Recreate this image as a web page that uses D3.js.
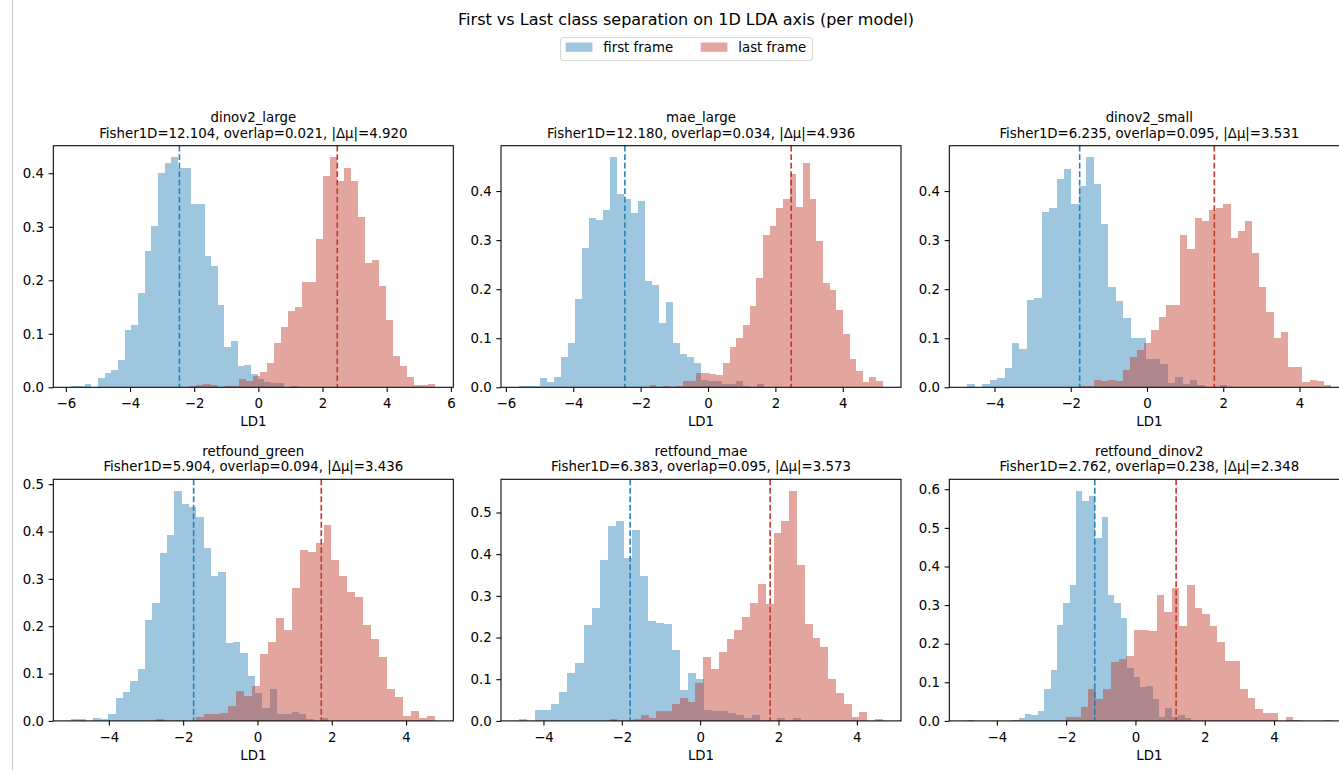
<!DOCTYPE html>
<html>
<head>
<meta charset="utf-8">
<script src="https://cdn.jsdelivr.net/npm/d3@7"></script>
<style>
  html, body { margin: 0; padding: 0; background: #fff; }
  svg { display: block; font-family: "DejaVu Sans", sans-serif; }
</style>
</head>
<body>
<svg id="chart" width="1339" height="770"></svg>
<script>
// Modelle und Kennzahlen
const models = ["dinov2_large", "mae_large", "dinov2_small", "retfound_green", "retfound_mae", "retfound_dinov2"];
const fisher1D = [12.104, 12.180, 6.235, 5.904, 6.383, 2.762];
const overlap = [0.021, 0.034, 0.095, 0.094, 0.095, 0.238];
const deltaMu = [4.920, 4.936, 3.531, 3.436, 3.573, 2.348];

// Klassenmittel auf LD1 (gestrichelte Linien)
const firstMean = [-2.460, -2.468, -1.766, -1.718, -1.787, -1.174];
const lastMean = [2.460, 2.468, 1.766, 1.718, 1.787, 1.174];

// Histogramm-Bins (35 Bins je Serie): linker Rand + Breite
const firstBinStart = [-5.824, -5.605, -4.709, -5.006, -4.620, -4.847];
const firstBinWidth = [0.2073, 0.2075, 0.1946, 0.1975, 0.2053, 0.1843];
const lastBinStart = [-2.147, -1.731, -1.768, -2.729, -2.312, -2.018];
const lastBinWidth = [0.21875, 0.1977, 0.1885, 0.2146, 0.1993, 0.219];

// Dichten "first frame"
const firstDensity = [
  [0.003,0.003,0.006,0,0.017,0.027,0.032,0.051,0.107,0.117,0.176,0.254,0.302,0.401,0.419,0.43,0.409,0.409,0.342,0.342,0.246,0.227,0.153,0.075,0.087,0.039,0.042,0.025,0.015,0.01,0.008,0.008,0,0.003,0],
  [0.003,0.003,0.003,0.018,0.01,0.022,0.062,0.091,0.18,0.283,0.346,0.34,0.361,0.469,0.394,0.384,0.355,0.38,0.217,0.208,0.132,0.173,0.09,0.068,0.062,0.049,0.015,0.012,0.012,0.006,0.006,0.013,0.003,0,0.006],
  [0.007,0,0.007,0.015,0.018,0.039,0.09,0.078,0.178,0.181,0.357,0.365,0.424,0.445,0.373,0.41,0.469,0.414,0.332,0.205,0.175,0.141,0.101,0.101,0.057,0.058,0.048,0.008,0.022,0.007,0.014,0.004,0,0,0.004],
  [0.004,0.004,0,0.007,0.004,0.015,0.048,0.062,0.085,0.109,0.213,0.248,0.354,0.392,0.486,0.459,0.451,0.431,0.366,0.307,0.314,0.164,0.167,0.144,0.094,0.058,0.028,0.067,0.015,0.015,0.018,0.014,0.004,0,0.006],
  [0.004,0,0.026,0.026,0.041,0.07,0.114,0.138,0.23,0.27,0.386,0.468,0.48,0.391,0.458,0.348,0.24,0.236,0.232,0.169,0.073,0.116,0.1,0.026,0.024,0.024,0.02,0.014,0.006,0.014,0,0,0.006,0,0.006],
  [0.003,0,0,0,0,0,0,0.003,0.007,0.017,0.015,0.026,0.083,0.133,0.249,0.305,0.353,0.596,0.57,0.583,0.475,0.528,0.327,0.305,0.266,0.136,0.114,0.089,0.09,0.058,0.011,0.033,0.011,0.015,0.007]
];

// Dichten "last frame"
const lastDensity = [
  [0.002,0.004,0.006,0.004,0,0.003,0.003,0.015,0.012,0.022,0.029,0.046,0.082,0.113,0.142,0.15,0.197,0.197,0.278,0.395,0.43,0.385,0.41,0.385,0.318,0.232,0.237,0.19,0.125,0.058,0.04,0.02,0.005,0.004,0.006],
  [0.005,0,0.003,0,0.003,0.013,0.013,0.03,0.03,0.027,0.025,0.049,0.083,0.1,0.126,0.166,0.223,0.31,0.329,0.365,0.384,0.435,0.368,0.458,0.384,0.299,0.213,0.198,0.158,0.108,0.058,0.034,0.01,0.02,0.013],
  [0.003,0.003,0.015,0.012,0.015,0.012,0.035,0.062,0.076,0.091,0.117,0.144,0.168,0.168,0.31,0.281,0.346,0.338,0.361,0.365,0.373,0.304,0.318,0.338,0.273,0.204,0.154,0.1,0.112,0.042,0.041,0.01,0.015,0.012,0.005],
  [0.003,0,0,0,0,0.008,0.014,0.014,0.016,0.032,0.063,0.053,0.074,0.141,0.167,0.217,0.192,0.28,0.361,0.357,0.376,0.413,0.34,0.307,0.273,0.262,0.203,0.173,0.134,0.068,0.05,0.011,0.021,0.006,0.011],
  [0.004,0,0,0.004,0.014,0.006,0.024,0.024,0.041,0.054,0.046,0.09,0.153,0.124,0.166,0.196,0.218,0.25,0.284,0.328,0.28,0.451,0.479,0.552,0.374,0.232,0.2,0.177,0.1,0.066,0.041,0.01,0.022,0,0.004],
  [0.01,0.01,0.037,0.083,0.058,0.083,0.153,0.16,0.169,0.235,0.235,0.232,0.325,0.282,0.344,0.246,0.351,0.292,0.278,0.245,0.205,0.155,0.155,0.083,0.06,0.03,0.02,0.02,0,0.009,0.003,0,0,0,0.003]
];

// Tick-Werte (rechter Rand ist im Original abgeschnitten)
const xTickValues = [
  [-6, -4, -2, 0, 2, 4, 6],
  [-6, -4, -2, 0, 2, 4],
  [-4, -2, 0, 2, 4],
  [-4, -2, 0, 2, 4],
  [-4, -2, 0, 2, 4],
  [-4, -2, 0, 2, 4]
];
const yTickValues = [
  [0, 0.1, 0.2, 0.3, 0.4],
  [0, 0.1, 0.2, 0.3, 0.4],
  [0, 0.1, 0.2, 0.3, 0.4],
  [0, 0.1, 0.2, 0.3, 0.4, 0.5],
  [0, 0.1, 0.2, 0.3, 0.4, 0.5],
  [0, 0.1, 0.2, 0.3, 0.4, 0.5, 0.6]
];

const legendLabels = ["first frame", "last frame"];
const chartTitle = "First vs Last class separation on 1D LDA axis (per model)";

// Farben
const BLUE = "#2980b9";
const RED = "#c0392b";
const ALPHA = 0.45;
const FS = 13.33;   // 10pt
const TICK = 4.67;  // 3.5pt

const svg = d3.select("#chart");

// Rand links (Notebook-Ausgabe)
svg.append("line")
  .attr("x1", 12.5).attr("x2", 12.5)
  .attr("y1", 0).attr("y2", 770)
  .attr("stroke", "#c8c8c8")
  .attr("stroke-width", 1);

// Titel
svg.append("text")
  .attr("x", 686)
  .attr("y", 25)
  .attr("text-anchor", "middle")
  .attr("font-size", 16)
  .attr("fill", "#000")
  .text(chartTitle);

// Legende
const legend = svg.append("g");
legend.append("rect")
  .attr("x", 560.5).attr("y", 37.5)
  .attr("width", 252).attr("height", 23)
  .attr("rx", 2.7)
  .attr("fill", "#fff")
  .attr("stroke", "#d6d6d6")
  .attr("stroke-width", 1);

const legendItems = legend.selectAll("g.item")
  .data([{ label: legendLabels[0], color: BLUE }, { label: legendLabels[1], color: RED }])
  .join("g")
    .attr("class", "item")
    .attr("transform", (d, i) => `translate(${565.7 + i * 135},0)`);

legendItems.append("rect")
  .attr("x", 0).attr("y", 42.5)
  .attr("width", 26.7).attr("height", 9.3)
  .attr("fill", d => d.color)
  .attr("fill-opacity", ALPHA);

legendItems.append("text")
  .attr("x", 37.6)
  .attr("y", 52)
  .attr("font-size", FS)
  .attr("fill", "#000")
  .text(d => d.label);

// Panels
const panelW = 400, panelH = 241.6;
const colX = [53.3, 501, 949.3];
const rowY = [145.7, 479.3];

models.forEach((name, i) => {
  const left = colX[i % 3];
  const top = rowY[Math.floor(i / 3)];
  const g = svg.append("g").attr("transform", `translate(${left},${top})`);

  const series = [
    { start: firstBinStart[i], width: firstBinWidth[i], values: firstDensity[i], color: BLUE },
    { start: lastBinStart[i], width: lastBinWidth[i], values: lastDensity[i], color: RED }
  ];

  // Achsengrenzen wie matplotlib (5% Rand in x, 5% oben in y)
  const lo = d3.min(series, s => s.start);
  const hi = d3.max(series, s => s.start + s.width * s.values.length);
  const pad = (hi - lo) * 0.05;
  const x = d3.scaleLinear().domain([lo - pad, hi + pad]).range([0, panelW]);
  const yMax = d3.max(series, s => d3.max(s.values)) * 1.05;
  const y = d3.scaleLinear().domain([0, yMax]).range([panelH, 0]);

  // Balken
  series.forEach(s => {
    const bins = s.values.map((v, k) => ({
      x0: s.start + k * s.width,
      x1: s.start + (k + 1) * s.width,
      v
    }));
    g.append("g")
      .selectAll("rect")
      .data(bins)
      .join("rect")
        .attr("x", d => x(d.x0))
        .attr("width", d => x(d.x1) - x(d.x0))
        .attr("y", d => y(d.v))
        .attr("height", d => y(0) - y(d.v))
        .attr("fill", s.color)
        .attr("fill-opacity", ALPHA)
        .attr("shape-rendering", "crispEdges");
  });

  // Mittelwert-Linien
  [{ m: firstMean[i], c: BLUE }, { m: lastMean[i], c: RED }].forEach(d => {
    g.append("line")
      .attr("x1", x(d.m)).attr("x2", x(d.m))
      .attr("y1", 0).attr("y2", panelH)
      .attr("stroke", d.c)
      .attr("stroke-width", 1.6)
      .attr("stroke-dasharray", "5.9,2.6");
  });

  // Achsen
  const xAxis = g.append("g")
    .attr("transform", `translate(0,${panelH})`)
    .call(d3.axisBottom(x).tickValues(xTickValues[i]).tickSize(TICK).tickPadding(TICK).tickFormat(d3.format("d")));
  const yAxis = g.append("g")
    .call(d3.axisLeft(y).tickValues(yTickValues[i]).tickSize(TICK).tickPadding(TICK).tickFormat(d3.format(".1f")));

  [xAxis, yAxis].forEach(a => {
    a.attr("font-size", FS).attr("font-family", "DejaVu Sans, sans-serif").attr("color", "#000");
    a.select(".domain").remove();
    a.selectAll(".tick line").attr("stroke-width", 1.07);
  });
  xAxis.selectAll(".tick text").attr("dy", "0.85em");

  // Rahmen
  g.append("rect")
    .attr("x", 0).attr("y", 0)
    .attr("width", panelW).attr("height", panelH)
    .attr("fill", "none")
    .attr("stroke", "#000")
    .attr("stroke-width", 1.07);

  // Titel (zweizeilig)
  g.append("text")
    .attr("x", panelW / 2).attr("y", -23.5)
    .attr("text-anchor", "middle")
    .attr("font-size", FS)
    .text(name);
  g.append("text")
    .attr("x", panelW / 2).attr("y", -8)
    .attr("text-anchor", "middle")
    .attr("font-size", FS)
    .text(`Fisher1D=${fisher1D[i].toFixed(3)}, overlap=${overlap[i].toFixed(3)}, |Δμ|=${deltaMu[i].toFixed(3)}`);

  // x-Label
  g.append("text")
    .attr("x", panelW / 2).attr("y", panelH + 39)
    .attr("text-anchor", "middle")
    .attr("font-size", FS)
    .text("LD1");
});
</script>
</body>
</html>
